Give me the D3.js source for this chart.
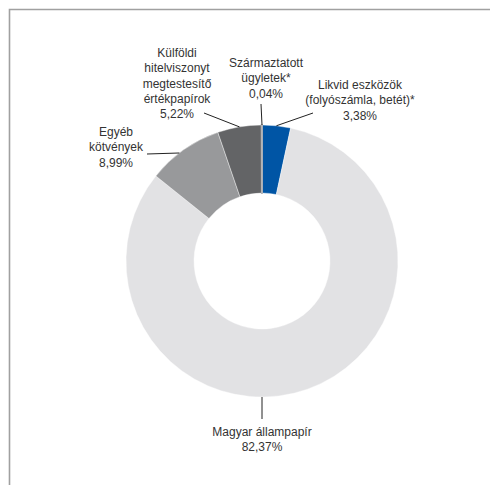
<!DOCTYPE html>
<html>
<head>
<meta charset="utf-8">
<script src="https://cdn.jsdelivr.net/npm/d3@7"></script>
<style>
  html, body { margin: 0; padding: 0; background: #fff; }
  svg text { font-family: "Liberation Sans", Arial, Helvetica, sans-serif; font-size: 12px; fill: #333; }
</style>
</head>
<body>
<svg id="chart" width="490" height="485"></svg>
<script>
// Portfolio composition (%), clockwise from 12 o'clock
const categories = [
  "Likvid eszközök (folyószámla, betét)*",
  "Magyar állampapír",
  "Egyéb kötvények",
  "Külföldi hitelviszonyt megtestesítő értékpapírok",
  "Származtatott ügyletek*"
];
const values = [3.38, 82.37, 8.99, 5.22, 0.04];
const valueLabels = ["3,38%", "82,37%", "8,99%", "5,22%", "0,04%"];
const labelLines = [
  ["Likvid eszközök", "(folyószámla, betét)*"],
  ["Magyar állampapír"],
  ["Egyéb", "kötvények"],
  ["Külföldi", "hitelviszonyt", "megtestesítő", "értékpapírok"],
  ["Származtatott", "ügyletek*"]
];
const colors = ["#0055a5", "#e2e2e4", "#98999b", "#636466", "#b4b4b6"];

// Label placement: text block centre (x, first baseline), leader end point,
// and optional fixed angle where the leader meets the ring
const labelLayout = [
  { x: 360, y: 89,  lead: [313, 113], angle: null },
  { x: 262, y: 436, lead: [262, 419], angle: Math.PI },
  { x: 116, y: 136, lead: [147, 154], angle: 5.63 },
  { x: 177, y: 57,  lead: [204, 113], angle: null },
  { x: 266, y: 67,  lead: [261, 104], angle: 0.0 }
];

const svg = d3.select("#chart");
const cx = 262, cy = 261, R = 136, r = 68;

// frame (top and left rules)
svg.append("path")
  .attr("d", "M9.5,485 L9.5,9.5 L490,9.5")
  .attr("fill", "none")
  .attr("stroke", "#a0a0a0")
  .attr("stroke-width", 1.6);

const pie = d3.pie().sort(null).value(d => d)(values);
const arc = d3.arc().innerRadius(r).outerRadius(R);

const g = svg.append("g").attr("transform", `translate(${cx},${cy})`);

g.selectAll("path.slice")
  .data(pie)
  .join("path")
  .attr("class", "slice")
  .attr("d", arc)
  .attr("fill", (d, i) => colors[i])
  .attr("stroke", (d, i) => i === 4 ? colors[i] : "#ffffff")
  .attr("stroke-width", (d, i) => i === 4 ? 1.8 : 0.4);

// leader lines from outer edge of each slice to its label
pie.forEach((d, i) => {
  const L = labelLayout[i];
  const a = L.angle !== null ? L.angle : (d.startAngle + d.endAngle) / 2;
  const x0 = cx + R * Math.sin(a);
  const y0 = cy - R * Math.cos(a);
  svg.append("line")
    .attr("x1", x0).attr("y1", y0)
    .attr("x2", L.lead[0]).attr("y2", L.lead[1])
    .attr("stroke", "#222")
    .attr("stroke-width", 1);
});

// labels
const lineH = 15.3;
labelLines.forEach((lines, i) => {
  const L = labelLayout[i];
  const t = svg.append("text")
    .attr("text-anchor", "middle")
    .attr("x", L.x).attr("y", L.y);
  lines.concat([valueLabels[i]]).forEach((s, k) => {
    t.append("tspan").attr("x", L.x).attr("y", L.y + k * lineH).text(s);
  });
});
</script>
</body>
</html>
